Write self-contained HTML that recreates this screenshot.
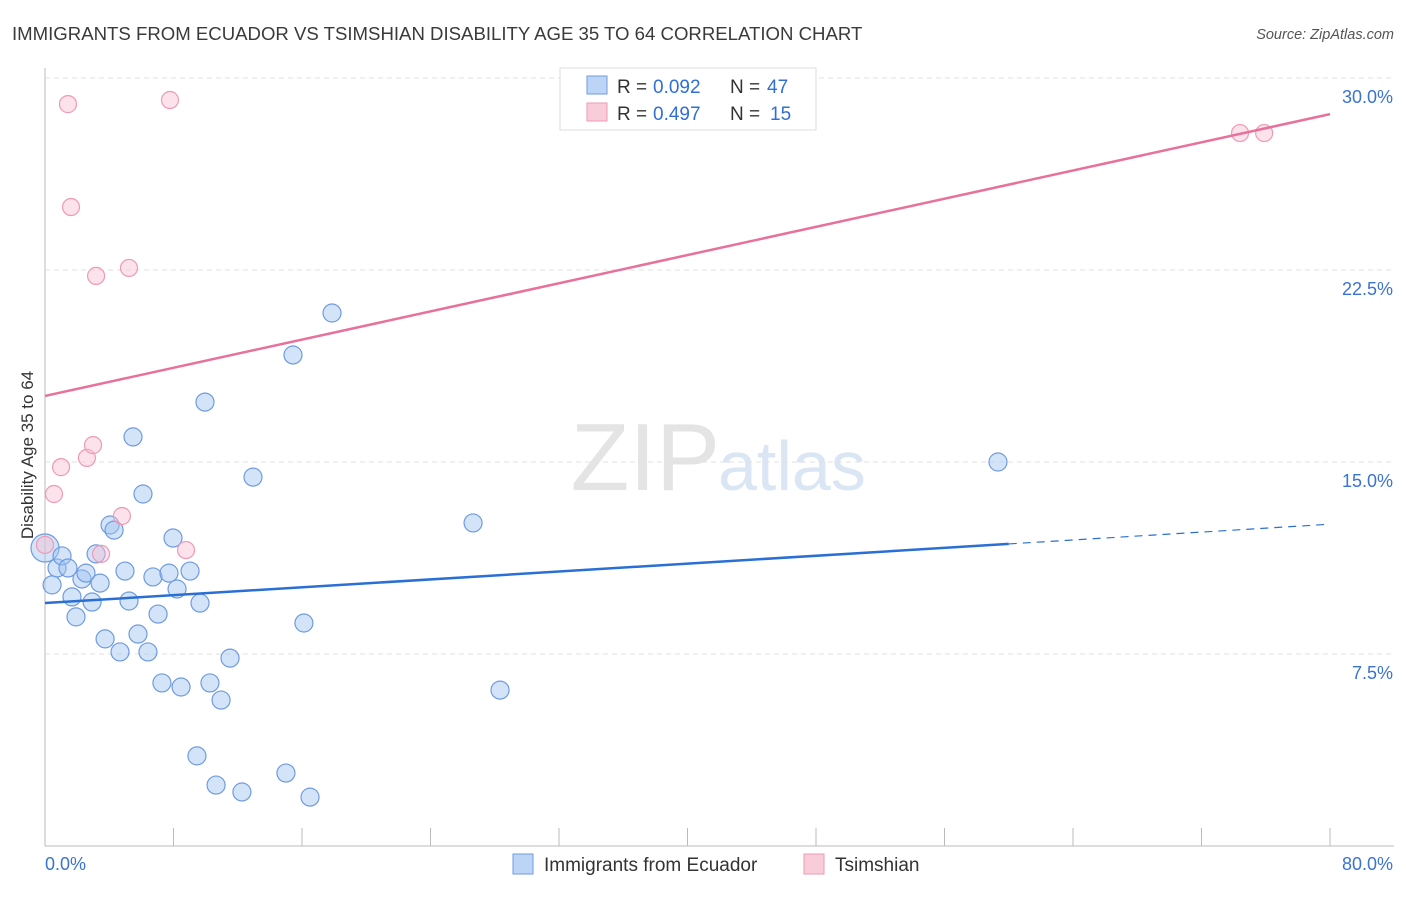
<!DOCTYPE html>
<html><head><meta charset="utf-8"><style>
body{margin:0;background:#fff;font-family:"Liberation Sans",sans-serif;}
svg text{font-family:"Liberation Sans",sans-serif;}
</style></head><body>
<svg id="chart" width="1406" height="892" viewBox="0 0 1406 892">
<text x="12" y="40" font-size="18.6" fill="#3a3a3a">IMMIGRANTS FROM ECUADOR VS TSIMSHIAN DISABILITY AGE 35 TO 64 CORRELATION CHART</text>
<text x="1394" y="39" font-size="14.5" fill="#555" font-style="italic" text-anchor="end">Source: ZipAtlas.com</text>
<text x="720" y="490" font-size="96" fill="#e4e4e4" font-family="Liberation Serif" text-anchor="end">ZIP</text>
<text x="718" y="490" font-size="70" fill="#dbe6f5">atlas</text>
<text transform="translate(33,455) rotate(-90)" font-size="17" fill="#333" text-anchor="middle">Disability Age 35 to 64</text>
<g id="grid"></g><g id="axes"></g><g id="marks"></g>
<g>
<rect x="560" y="68" width="256" height="62" fill="#fff" stroke="#ddd"/>
<rect x="587" y="76" width="20" height="18" fill="#bcd4f5" stroke="#6f9be0"/>
<rect x="587" y="103" width="20" height="18" fill="#f9ccd9" stroke="#ee9ab5"/>
<g>
<text x="617" y="93" font-size="19" fill="#333">R =</text>
<text x="653" y="93" font-size="19" fill="#2f6fd6">0.092</text>
<text x="730" y="93" font-size="19" fill="#333">N =</text>
<text x="767" y="93" font-size="19" fill="#2f6fd6">47</text>
</g>
<g>
<text x="617" y="120" font-size="19" fill="#333">R =</text>
<text x="653" y="120" font-size="19" fill="#2f6fd6">0.497</text>
<text x="730" y="120" font-size="19" fill="#333">N =</text>
<text x="770" y="120" font-size="19" fill="#2f6fd6">15</text>
</g>
</g>
<g>
<rect x="513" y="854" width="20" height="20" fill="#bcd4f5" stroke="#6f9be0"/>
<text x="544" y="871" font-size="19" fill="#333">Immigrants from Ecuador</text>
<rect x="804" y="854" width="20" height="20" fill="#f9ccd9" stroke="#ee9ab5"/>
<text x="835" y="871" font-size="19" fill="#333">Tsimshian</text>
</g>
</svg>
<script>
const yTicks=[7.5,15.0,22.5,30.0];
const xTickLabels=["0.0%","80.0%"];
const blueX=[0,0.44,0.75,1.06,1.43,1.68,1.93,2.30,2.55,2.93,3.18,3.43,3.74,4.05,4.30,4.67,4.98,5.23,5.48,5.79,6.10,6.41,6.72,7.04,7.28,7.72,7.97,8.22,8.47,9.03,9.65,9.96,10.27,10.65,10.96,11.52,12.26,12.95,15.00,15.44,16.12,16.50,17.87,26.65,28.33,59.33,9.46];
const blueY=[11.64,10.20,10.86,11.33,10.86,9.73,8.95,10.43,10.66,9.53,11.41,10.27,8.09,12.54,12.34,7.58,10.74,9.57,15.98,8.28,13.75,7.58,10.51,9.06,6.37,10.66,12.03,10.04,6.21,10.74,9.49,17.34,6.37,2.38,5.70,7.34,2.11,14.41,2.85,19.18,8.71,1.91,20.82,12.62,6.09,15.0,3.52];
const pinkX=[0,0.56,1.0,1.43,1.62,2.61,2.99,3.18,3.49,4.79,5.23,7.78,8.78,74.4,75.9];
const pinkY=[11.76,13.75,14.80,28.98,24.96,15.16,15.66,22.27,11.41,12.89,22.58,29.14,11.56,27.85,27.85];
const blueTrend=[9.49,0.0385];
const pinkTrend=[17.58,0.1376];
const X0=45,X1=1330,Y0=846,Y30=78;
const xs=v=>X0+(X1-X0)*v/80;
const ys=v=>Y0-(Y0-Y30)*v/30;
const NS="http://www.w3.org/2000/svg";
function mk(t,a,p){const e=document.createElementNS(NS,t);for(const k in a)e.setAttribute(k,a[k]);p.appendChild(e);return e;}
const grid=document.getElementById('grid'),axes=document.getElementById('axes'),marks=document.getElementById('marks');
yTicks.forEach(v=>{
 const l=mk('line',{x1:X0,x2:1394,y1:ys(v),y2:ys(v),stroke:'#e2e2e2','stroke-dasharray':'5,4'},grid);
 
 
 const t=mk('text',{x:1393,y:ys(v)+25,'font-size':18,fill:'#3b73d1','text-anchor':'end'},grid);
 t.textContent=v.toFixed(1)+'%';
 
 
});
const ax=mk('line',{x1:X0,x2:1394,y1:Y0,y2:Y0,stroke:'#bbb'},axes);


const ay=mk('line',{x1:X0,x2:X0,y1:68,y2:Y0,stroke:'#bbb'},axes);


for(let i=0;i<=10;i++){const tk=mk('line',{x1:xs(i*8),x2:xs(i*8),y1:Y0,y2:Y0-18,stroke:'#bbb'},axes);
 
 }
xTickLabels.forEach((s,i)=>{const t=mk('text',{x:i?1393:45,y:870,'font-size':18,fill:'#3b73d1','text-anchor':i?'end':'start'},axes);t.textContent=s;
 
 });
blueX.forEach((x,i)=>{const c=mk('circle',{cx:xs(x),cy:ys(blueY[i]),r:i===0?14:9,fill:'rgba(160,195,240,0.45)',stroke:'#6f9be0','stroke-width':1.2},marks);
 
 });
pinkX.forEach((x,i)=>{const c=mk('circle',{cx:xs(x),cy:ys(pinkY[i]),r:8.5,fill:'rgba(248,190,208,0.45)',stroke:'#ee9ab5','stroke-width':1.2},marks);
 
 });
const bl=mk('line',{x1:xs(0),y1:ys(blueTrend[0]),x2:xs(60),y2:ys(blueTrend[0]+blueTrend[1]*60),stroke:'#2a6fd6','stroke-width':2.5},marks);


const bd=mk('line',{x1:xs(60),y1:ys(blueTrend[0]+blueTrend[1]*60),x2:xs(80),y2:ys(blueTrend[0]+blueTrend[1]*80),stroke:'#2a6fd6','stroke-width':1.2,'stroke-dasharray':'8,6'},marks);


const pl=mk('line',{x1:xs(0),y1:ys(pinkTrend[0]),x2:xs(80),y2:ys(pinkTrend[0]+pinkTrend[1]*80),stroke:'#e8709a','stroke-width':2.5},marks);


</script>
</body></html>
